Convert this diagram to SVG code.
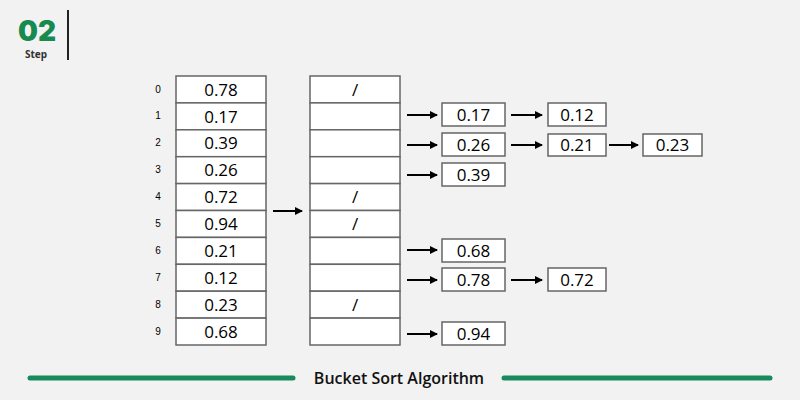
<svg xmlns="http://www.w3.org/2000/svg" width="800" height="400" viewBox="0 0 800 400">
<defs>
<marker id="ah" markerWidth="8" markerHeight="8" refX="7" refY="4" orient="auto" markerUnits="userSpaceOnUse"><path d="M0,0 L8,4 L0,8 Z" fill="#000"/></marker>
<style>
.c{fill:#fff;stroke:#666;stroke-width:1.5}
.v{font-family:"Open Sans","Liberation Sans",sans-serif;font-size:17px;text-anchor:middle;fill:#000}
.i{font-family:"Liberation Sans",sans-serif;font-size:10px;text-anchor:middle;fill:#000}
.a{stroke:#000;stroke-width:2;marker-end:url(#ah)}
</style>
</defs>
<rect width="800" height="400" fill="#f2f2f2"/>
<g id="header">
<text x="37" y="41" font-family="Inter,'Noto Sans',sans-serif" font-weight="900" font-size="28" fill="#178a4f" text-anchor="middle">02</text>
<text x="36" y="58" font-family="'Noto Sans',sans-serif" font-weight="700" font-size="10" fill="#333" text-anchor="middle">Step</text>
<line x1="68" y1="10" x2="68" y2="60" stroke="#222" stroke-width="2"/>
</g>
<g id="input">
<rect class="c" x="176" y="76" width="90" height="26.9"/><text class="v" x="221" y="96">0.78</text><text class="i" x="158" y="93">0</text>
<rect class="c" x="176" y="102.9" width="90" height="26.9"/><text class="v" x="221" y="123">0.17</text><text class="i" x="158" y="119">1</text>
<rect class="c" x="176" y="129.8" width="90" height="26.9"/><text class="v" x="221" y="149">0.39</text><text class="i" x="158" y="146">2</text>
<rect class="c" x="176" y="156.7" width="90" height="26.9"/><text class="v" x="221" y="176">0.26</text><text class="i" x="158" y="173">3</text>
<rect class="c" x="176" y="183.6" width="90" height="26.9"/><text class="v" x="221" y="203">0.72</text><text class="i" x="158" y="200">4</text>
<rect class="c" x="176" y="210.5" width="90" height="26.9"/><text class="v" x="221" y="230">0.94</text><text class="i" x="158" y="227">5</text>
<rect class="c" x="176" y="237.4" width="90" height="26.9"/><text class="v" x="221" y="257">0.21</text><text class="i" x="158" y="254">6</text>
<rect class="c" x="176" y="264.3" width="90" height="26.9"/><text class="v" x="221" y="284">0.12</text><text class="i" x="158" y="281">7</text>
<rect class="c" x="176" y="291.2" width="90" height="26.9"/><text class="v" x="221" y="311">0.23</text><text class="i" x="158" y="308">8</text>
<rect class="c" x="176" y="318.1" width="90" height="26.9"/><text class="v" x="221" y="338">0.68</text><text class="i" x="158" y="335">9</text>
</g>
<g id="buckets">
<rect class="c" x="310" y="76" width="90" height="26.9"/><text class="v" x="355" y="96">/</text>
<rect class="c" x="310" y="102.9" width="90" height="26.9"/>
<rect class="c" x="310" y="129.8" width="90" height="26.9"/>
<rect class="c" x="310" y="156.7" width="90" height="26.9"/>
<rect class="c" x="310" y="183.6" width="90" height="26.9"/><text class="v" x="355" y="203">/</text>
<rect class="c" x="310" y="210.5" width="90" height="26.9"/><text class="v" x="355" y="230">/</text>
<rect class="c" x="310" y="237.4" width="90" height="26.9"/>
<rect class="c" x="310" y="264.3" width="90" height="26.9"/>
<rect class="c" x="310" y="291.2" width="90" height="26.9"/><text class="v" x="355" y="311">/</text>
<rect class="c" x="310" y="318.1" width="90" height="26.9"/>
</g>
<g id="lists">
<rect class="c" x="442" y="103" width="63" height="23"/><text class="v" x="473.5" y="121">0.17</text>
<rect class="c" x="548" y="103" width="58" height="23"/><text class="v" x="577" y="121">0.12</text>
<rect class="c" x="442" y="133" width="63" height="23"/><text class="v" x="473.5" y="151">0.26</text>
<rect class="c" x="548" y="134" width="58" height="22"/><text class="v" x="577" y="151">0.21</text>
<rect class="c" x="643" y="134" width="59" height="22"/><text class="v" x="672.5" y="151">0.23</text>
<rect class="c" x="442" y="163" width="63" height="23"/><text class="v" x="473.5" y="181">0.39</text>
<rect class="c" x="442" y="239" width="63" height="23"/><text class="v" x="473.5" y="257">0.68</text>
<rect class="c" x="442" y="268" width="63" height="23"/><text class="v" x="473.5" y="286">0.78</text>
<rect class="c" x="548" y="268" width="58" height="23"/><text class="v" x="577" y="286">0.72</text>
<rect class="c" x="442" y="322" width="63" height="23"/><text class="v" x="473.5" y="340">0.94</text>
</g>
<g id="connectors">
<line class="a" x1="273" y1="211" x2="302" y2="211"/>
<line class="a" x1="407" y1="115" x2="437" y2="115"/>
<line class="a" x1="511" y1="115" x2="542" y2="115"/>
<line class="a" x1="407" y1="145" x2="437" y2="145"/>
<line class="a" x1="511" y1="145" x2="542" y2="145"/>
<line class="a" x1="609" y1="145" x2="638" y2="145"/>
<line class="a" x1="407" y1="175" x2="437" y2="175"/>
<line class="a" x1="407" y1="250" x2="437" y2="250"/>
<line class="a" x1="407" y1="280" x2="437" y2="280"/>
<line class="a" x1="511" y1="280" x2="542" y2="280"/>
<line class="a" x1="407" y1="334" x2="437" y2="334"/>
</g>
<g id="footer">
<line x1="30" y1="378" x2="293" y2="378" stroke="#178a5e" stroke-width="5" stroke-linecap="round"/>
<line x1="504" y1="378" x2="770" y2="378" stroke="#178a5e" stroke-width="5" stroke-linecap="round"/>
<text x="399" y="384" font-family="'Open Sans','Liberation Sans',sans-serif" font-weight="600" font-size="16" fill="#111" text-anchor="middle">Bucket Sort Algorithm</text>
</g>
</svg>
